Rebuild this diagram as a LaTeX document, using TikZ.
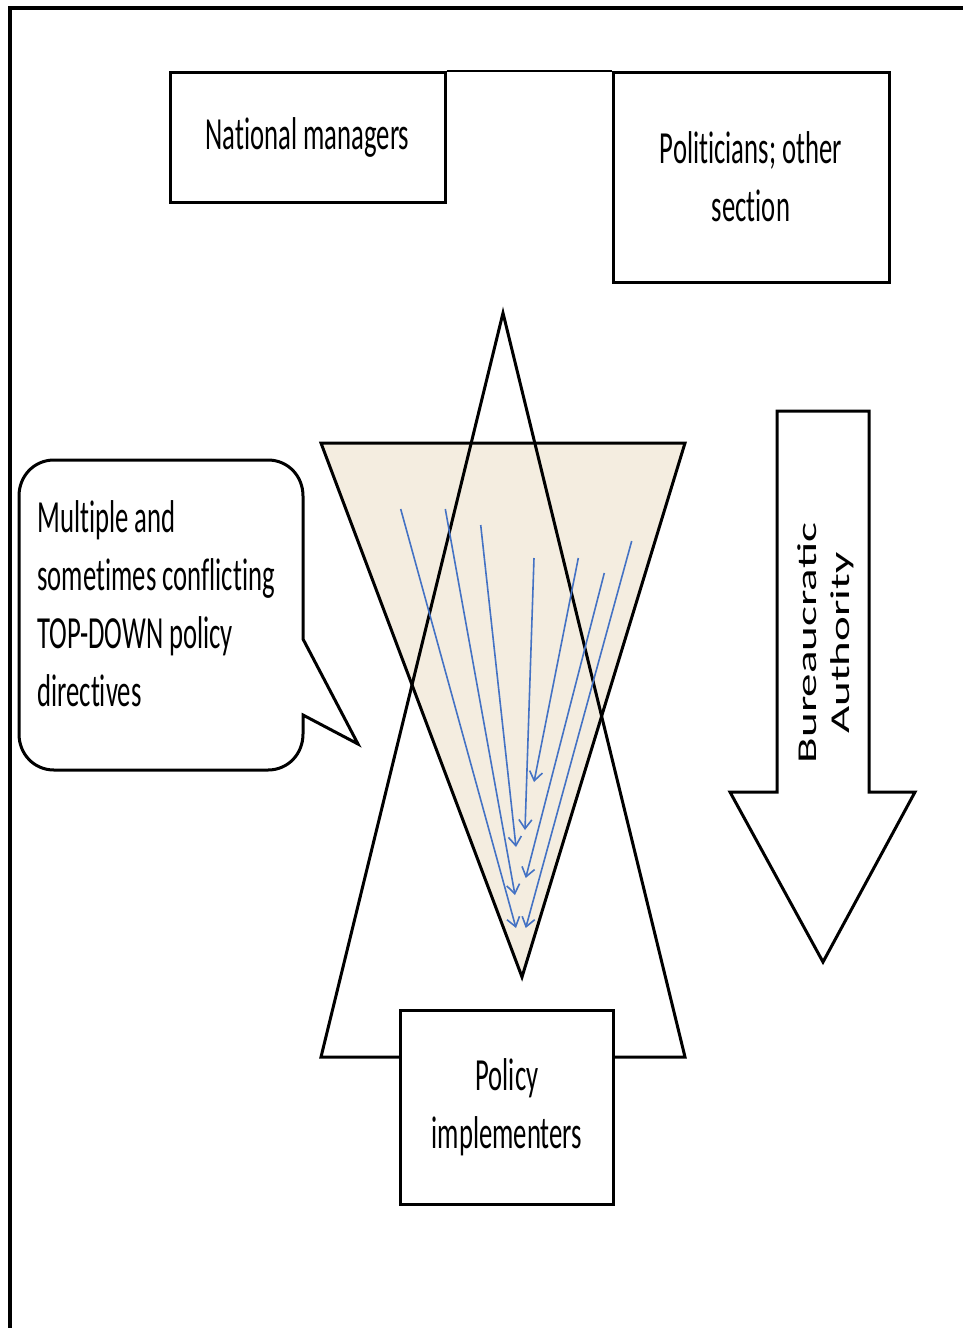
\documentclass[tikz,border=0pt]{standalone}
\usepackage{fontspec}
\usepackage{xcolor}
\usetikzlibrary{arrows.meta}
\setmainfont{Carlito}
\newfontfamily\narrowfont[FakeStretch=0.58, Ligatures=NoCommon]{Carlito}
\newfontfamily\widefont[FakeStretch=1.73]{Carlito}
\definecolor{coneFill}{RGB}{244,237,224}
\definecolor{directiveBlue}{RGB}{68,114,196}
\tikzset{
    actorbox/.style={draw, line width=1.5pt, fill=white, inner sep=0pt, align=center,
        font=\narrowfont\fontsize{23}{29}\selectfont},
    outline/.style={line width=1.5pt, line join=miter},
    directive/.style={draw=directiveBlue, line width=0.8pt, -{Straight Barb[length=4.5pt,width=6.5pt]}},
}

\begin{document}
\begin{tikzpicture}[x=0.5pt, y=-0.5pt]
    \useasboundingbox (0,0) rectangle (963,1328);

    % Page frame, only the top and left sides show
    \draw[line width=1.6pt] (963,8) -- (10,8) -- (10,1340);

    % The two boxes at the top, joined along their top edges
    \node[actorbox, minimum width=137.5pt, minimum height=65pt] (managers) at (307.5,137) {\raisebox{-1.5pt}{National managers}};
    \node[actorbox, minimum width=138pt, minimum height=105pt] (politicians) at (751,177) {Politicians; other\\section};
    \draw[line width=1pt] (managers.north east) -- (politicians.north west);

    % Inverted shaded triangle
    \draw[outline, fill=coneFill] (321,443) -- (685,443) -- (522,977) -- cycle;

    % Upright triangle
    \draw[outline] (321,1057) -- (503,313) -- (685,1057) -- cycle;

    % Blue directive arrows converging at the bottom
    \foreach \sx/\sy/\ex/\ey in {400.7/509/516/928, 445.3/509/515/895, 480.7/525/516/847,
        534/558/525/830, 578.3/558/534/782, 604.3/573/525.7/878, 631.7/541/525.7/928}
        \draw[directive] (\sx,\sy) -- (\ex,\ey);

    % Box at the foot of the upright triangle
    \node[actorbox, minimum width=106.5pt, minimum height=97pt] (implementers) at (507,1107) {Policy\\implementers};

    % Speech bubble on the left
    \draw[outline, fill=white] (303,639) -- (303,496) .. controls (303,476) and (288,460) .. (268,460) -- (54,460)
        .. controls (34,460) and (19,476) .. (19,496) -- (19,734) .. controls (19,754) and (34,770) .. (54,770) -- (268,770)
        .. controls (288,770) and (303,754) .. (303,734) -- (303,715) -- (358,744) -- cycle;
    \node[anchor=west, align=left, inner sep=0pt, font=\narrowfont\fontsize{23}{29}\selectfont] (directives) at (37,604)
        {Multiple and\\sometimes conflicting\\TOP-DOWN policy\\directives};

    % Block arrow on the right
    \draw[outline, fill=white] (777,411) -- (869,411) -- (869,792) -- (915,792) -- (823,962) -- (730,792) -- (777,792) -- cycle;
    \node[rotate=90, align=center, inner sep=0pt, font=\widefont\fontsize{13.6}{16.5}\selectfont] (authority) at (826,643)
        {Bureaucratic\\Authority};
\end{tikzpicture}
\end{document}
